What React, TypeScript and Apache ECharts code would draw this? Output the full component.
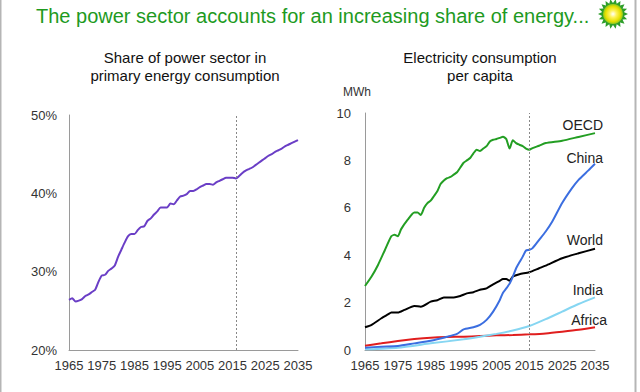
import React, { useEffect, useRef } from "react";
import * as echarts from "echarts";

const BASE_YEAR = 1965;
const xTicks = [1965, 1975, 1985, 1995, 2005, 2015, 2025, 2035];

const shareYears = Array.from({ length: 71 }, (_, i) => 1965 + i);
const shareValues = [
  26.4, 26.6, 26.2, 26.3, 26.5, 26.9, 27.1, 27.4, 27.7, 28.7,
  29.5, 29.6, 30.1, 30.4, 30.8, 31.9, 32.8, 33.7, 34.5, 34.8,
  34.8, 35.3, 35.7, 35.8, 36.5, 36.8, 37.3, 37.7, 38.2, 38.2,
  38.2, 38.7, 38.6, 39.1, 39.6, 39.7, 39.9, 40.3, 40.3, 40.5,
  40.8, 41.0, 41.2, 41.2, 41.1, 41.4, 41.6, 41.8, 42.0, 42.0,
  42.0, 41.9, 42.2, 42.6, 42.9, 43.1, 43.3, 43.6, 43.9, 44.2,
  44.5, 44.8, 45.0, 45.3, 45.5, 45.7, 46.0, 46.2, 46.4, 46.6, 46.8,
];

const oecdYears = [1965, 1967, 1969, 1971, 1973, 1974, 1975, 1976, 1978, 1980, 1981, 1982, 1983, 1984, 1985, 1986, 1987, 1988, 1989, 1990, 1991, 1992, 1993, 1994, 1995, 1996, 1997, 1998, 1999, 2000, 2001, 2002, 2003, 2004, 2005, 2006, 2007, 2008, 2009, 2010, 2011, 2012, 2013, 2014, 2015, 2016, 2018, 2020, 2025, 2030, 2035];
const oecdValues = [2.7, 3.1, 3.6, 4.2, 4.8, 4.86, 4.8, 5.1, 5.5, 5.8, 5.8, 5.7, 6.0, 6.2, 6.3, 6.5, 6.7, 7.0, 7.15, 7.25, 7.3, 7.4, 7.5, 7.7, 7.9, 8.0, 8.1, 8.3, 8.45, 8.4, 8.5, 8.6, 8.8, 8.87, 8.9, 8.95, 9.0, 8.9, 8.5, 8.85, 8.73, 8.66, 8.6, 8.5, 8.45, 8.52, 8.62, 8.73, 8.83, 8.99, 9.15];

const chinaYears = [1965, 1970, 1975, 1980, 1985, 1990, 1993, 1995, 1998, 2000, 2002, 2004, 2006, 2007, 2008, 2009, 2010, 2011, 2012, 2013, 2014, 2015, 2016, 2018, 2020, 2022, 2025, 2028, 2030, 2033, 2035];
const chinaValues = [0.1, 0.14, 0.17, 0.28, 0.39, 0.56, 0.68, 0.87, 0.96, 1.06, 1.27, 1.62, 2.1, 2.42, 2.6, 2.8, 3.1, 3.45, 3.7, 3.94, 4.2, 4.23, 4.3, 4.65, 5.0, 5.42, 6.2, 6.83, 7.18, 7.58, 7.86];

const worldYears = [1965, 1967, 1970, 1972, 1973, 1975, 1977, 1980, 1982, 1985, 1987, 1989, 1992, 1994, 1996, 1998, 2000, 2002, 2004, 2006, 2007, 2008, 2009, 2010, 2012, 2015, 2018, 2020, 2025, 2030, 2035];
const worldValues = [0.96, 1.06, 1.34, 1.5, 1.58, 1.58, 1.69, 1.86, 1.83, 2.04, 2.1, 2.22, 2.22, 2.28, 2.39, 2.44, 2.54, 2.6, 2.77, 2.92, 3.0, 3.0, 2.92, 3.1, 3.2, 3.28, 3.45, 3.56, 3.87, 4.08, 4.27];

const indiaYears = [1965, 1975, 1985, 1995, 2000, 2005, 2010, 2015, 2020, 2025, 2030, 2035];
const indiaValues = [0.03, 0.1, 0.28, 0.45, 0.56, 0.68, 0.82, 1.01, 1.3, 1.62, 1.94, 2.22];

const africaYears = [1965, 1970, 1975, 1980, 1985, 1990, 1995, 2000, 2005, 2010, 2015, 2020, 2025, 2030, 2035];
const africaValues = [0.18, 0.28, 0.38, 0.46, 0.52, 0.55, 0.56, 0.59, 0.62, 0.63, 0.66, 0.7, 0.77, 0.85, 0.96];

const seriesLabels = ["OECD", "China", "World", "India", "Africa"];

const FONT = "Liberation Sans, Arial, sans-serif";

function pairs(years: number[], values: number[]) {
  return years.map((y, i) => [y - BASE_YEAR, values[i]]);
}

export default function App() {
  const ref = useRef<HTMLDivElement>(null);
  useEffect(() => {
    if (!ref.current) return;
    const chart = echarts.init(ref.current, null, { renderer: "svg" });
    const xAxisBase = (gridIndex: number) => ({
      type: "value",
      gridIndex,
      min: 0,
      max: 70,
      interval: 10,
      axisLine: { show: true, lineStyle: { color: "#9a9a9a", width: 1 } },
      axisTick: { show: false },
      splitLine: { show: false },
      axisLabel: {
        color: "#333",
        fontSize: 13,
        fontFamily: FONT,
        margin: 9,
        formatter: (v: number) => String(v + BASE_YEAR),
      },
    });
    const vline = (x: number) => ({
      silent: true,
      symbol: "none",
      label: { show: false },
      lineStyle: { color: "#888", type: [2, 2], width: 1 },
      data: [{ xAxis: x }],
    });
    const lineSeries = (name: string, data: any[], color: string, idx: number, width = 2) => ({
      name,
      type: "line",
      xAxisIndex: idx,
      yAxisIndex: idx,
      data,
      showSymbol: false,
      smooth: 0.2,
      lineStyle: { color, width },
    });

    const labelColor = "#222";
    const option: any = {
      animation: false,
      backgroundColor: "#fff",
      textStyle: { fontFamily: FONT },
      grid: [
        { left: 69, right: 342, top: 115, bottom: 42 },
        { left: 365, right: 45, top: 113, bottom: 42 },
      ],
      xAxis: [xAxisBase(0), xAxisBase(1)],
      yAxis: [
        {
          type: "value",
          gridIndex: 0,
          min: 20,
          max: 50,
          interval: 10,
          axisLine: { show: true, lineStyle: { color: "#9a9a9a" } },
          axisTick: { show: false },
          splitLine: { show: false },
          axisLabel: { color: "#333", fontSize: 13, fontFamily: FONT, margin: 12, formatter: "{value}%" },
        },
        {
          type: "value",
          gridIndex: 1,
          min: 0,
          max: 10,
          interval: 2,
          axisLine: { show: true, lineStyle: { color: "#9a9a9a" } },
          axisTick: { show: false },
          splitLine: { show: false },
          axisLabel: { color: "#333", fontSize: 13, fontFamily: FONT, margin: 14 },
        },
      ],
      series: [
        { ...lineSeries("Share", pairs(shareYears, shareValues), "#6a3ec6", 0), markLine: vline(51) },
        { ...lineSeries("Africa", pairs(africaYears, africaValues), "#e01e1e", 1), markLine: vline(50) },
        lineSeries("India", pairs(indiaYears, indiaValues), "#86d6f2", 1),
        lineSeries("World", pairs(worldYears, worldValues), "#000000", 1),
        lineSeries("China", pairs(chinaYears, chinaValues), "#3b6ee0", 1),
        lineSeries("OECD", pairs(oecdYears, oecdValues), "#239e23", 1),
      ],
      graphic: [
        { type: "line", shape: { x1: 0.5, y1: 0, x2: 0.5, y2: 392 }, style: { stroke: "#b5b5b5", lineWidth: 2 } },
        { type: "line", shape: { x1: 635.5, y1: 0, x2: 635.5, y2: 392 }, style: { stroke: "#b5b5b5", lineWidth: 2 } },
        {
          type: "text",
          left: 36,
          top: 6,
          style: { text: "The power sector accounts for an increasing share of energy...", fill: "#1e9a1e", font: `20px ${FONT}` },
        },
        {
          type: "text",
          x: 185,
          y: 48,
          style: { text: "Share of power sector in\nprimary energy consumption", fill: "#111", font: `15px ${FONT}`, align: "center", lineHeight: 18 },
        },
        {
          type: "text",
          x: 480,
          y: 48,
          style: { text: "Electricity consumption\nper capita", fill: "#111", font: `15px ${FONT}`, align: "center", lineHeight: 18 },
        },
        { type: "text", x: 343, y: 86, style: { text: "MWh", fill: "#333", font: `12px ${FONT}` } },
        { type: "text", x: 603, y: 118, style: { text: seriesLabels[0], fill: labelColor, font: `14px ${FONT}`, align: "right" } },
        { type: "text", x: 603, y: 151, style: { text: seriesLabels[1], fill: labelColor, font: `14px ${FONT}`, align: "right" } },
        { type: "text", x: 603, y: 233, style: { text: seriesLabels[2], fill: labelColor, font: `14px ${FONT}`, align: "right" } },
        { type: "text", x: 603, y: 283, style: { text: seriesLabels[3], fill: labelColor, font: `14px ${FONT}`, align: "right" } },
        { type: "text", x: 607, y: 313, style: { text: seriesLabels[4], fill: labelColor, font: `14px ${FONT}`, align: "right" } },
        {
          type: "group",
          x: 613,
          y: 14,
          children: [
            {
              type: "polygon",
              shape: {
                points: Array.from({ length: 36 }, (_, i) => {
                  const a = (i * Math.PI) / 18;
                  const r = i % 2 === 0 ? 15 : 11;
                  return [r * Math.cos(a), r * Math.sin(a)];
                }),
              },
              style: { fill: "#2e9e2a" },
            },
            {
              type: "circle",
              shape: { cx: 0, cy: 0, r: 10 },
              style: {
                fill: new echarts.graphic.RadialGradient(0.5, 0.5, 0.5, [
                  { offset: 0, color: "#ffffff" },
                  { offset: 0.35, color: "#fff35a" },
                  { offset: 0.75, color: "#e6e000" },
                  { offset: 1, color: "#8cc81e" },
                ]),
              },
            },
          ],
        },
      ],
    };
    chart.setOption(option);
    return () => chart.dispose();
  }, []);
  return <div ref={ref} style={{ width: 640, height: 392, position: "absolute", left: 0, top: 0 }} />;
}
